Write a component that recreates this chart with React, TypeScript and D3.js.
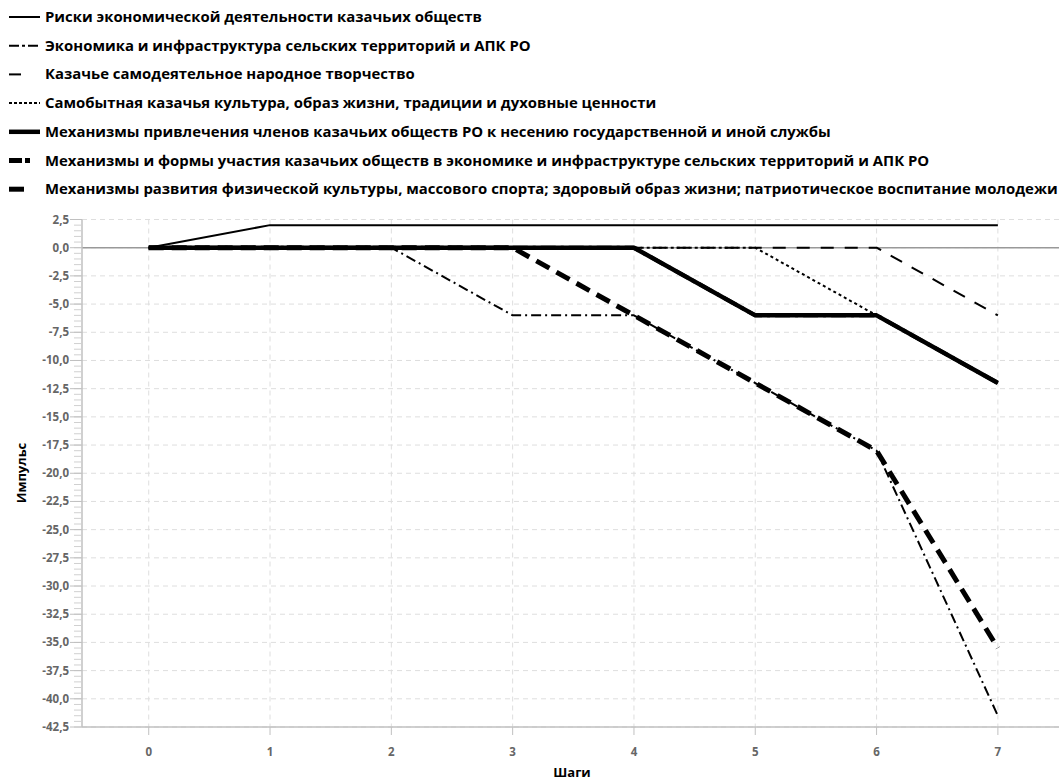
import React from "react";
import * as d3 from "d3";

const steps = [0, 1, 2, 3, 4, 5, 6, 7];
const seriesNames = [
  "Риски экономической деятельности казачьих обществ",
  "Экономика и инфраструктура сельских территорий и АПК РО",
  "Казачье самодеятельное народное творчество",
  "Самобытная казачья культура, образ жизни, традиции и духовные ценности",
  "Механизмы привлечения членов казачьих обществ РО к несению государственной и иной службы",
  "Механизмы и формы участия казачьих обществ в экономике и инфраструктуре сельских территорий и АПК РО",
  "Механизмы развития физической культуры, массового спорта; здоровый образ жизни; патриотическое воспитание молодежи",
];
const s1 = [0, 2, 2, 2, 2, 2, 2, 2];
const s2 = [0, 0, 0, -6, -6, -12, -18, -41.5];
const s3 = [0, 0, 0, 0, 0, 0, 0, -6];
const s4 = [0, 0, 0, 0, 0, 0, -6, -12];
const s5 = [0, 0, 0, 0, 0, -6, -6, -12];
const s6 = [0, 0, 0, 0, -6, -12, -18, -35.5];
const s7 = [0, 0, 0, 0, 0, -6, -6, -12];
const seriesValues = [s1, s2, s3, s4, s5, s6, s7];
const yTicks = d3.range(2.5, -42.6, -2.5);

const styles = [
  { w: 2, dash: "" },
  { w: 2, dash: "10,4,2,4" },
  { w: 2, dash: "13,11" },
  { w: 2, dash: "3,3" },
  { w: 4.5, dash: "" },
  { w: 5, dash: "15,8" },
  { w: 4, dash: "15,5,3,5" },
];
const legendStyles = [
  { w: 2, dash: "" },
  { w: 2, dash: "10,3,3,3" },
  { w: 2, dash: "12,20" },
  { w: 2, dash: "3,2" },
  { w: 4.5, dash: "" },
  { w: 5, dash: "13,3,5,20" },
  { w: 5, dash: "15,20" },
];
const drawOrder = [6, 0, 1, 2, 3, 4, 5];

export default function App() {
  const W = 1059, H = 782;
  const x = d3.scaleLinear().domain([-0.55, 7.55]).range([82, 1064.6]);
  const y = d3.scaleLinear().domain([-42.5, 2.5]).range([727, 219.5]);
  const line = d3.line<number>().x((_, i) => x(steps[i])).y((d) => y(d));
  const minor = d3.range(2.5, -42.51, -0.5);
  const font = "'Open Sans', 'Noto Sans', sans-serif";
  return (
    <svg width={W} height={H} style={{ position: "absolute", left: 0, top: 0, background: "#fff" }} fontFamily={font}>
      <defs>
        <clipPath id="plot">
          <rect x={82} y={200} width={W - 82} height={540} />
        </clipPath>
      </defs>
      {/* legend */}
      {seriesNames.map((n, i) => {
        const ly = 17 + i * 28.7;
        return (
          <g key={n}>
            <line x1={9} x2={40} y1={ly} y2={ly} stroke="#000" strokeWidth={legendStyles[i].w} strokeDasharray={legendStyles[i].dash} />
            <text x={45} y={ly + 5} fontSize={14.9} fontWeight={700} fill="#000">{n}</text>
          </g>
        );
      })}
      {/* grid */}
      {yTicks.map((t) => (
        <line key={"gy" + t} x1={82} x2={W} y1={y(t)} y2={y(t)} stroke="#dedede" strokeDasharray="5,4" />
      ))}
      {steps.map((s) => (
        <line key={"gx" + s} x1={x(s)} x2={x(s)} y1={219.5} y2={727} stroke="#dedede" strokeDasharray="5,4" />
      ))}
      {/* zero line */}
      <line x1={82} x2={W} y1={y(0)} y2={y(0)} stroke="#999" strokeWidth={1.5} />
      {/* y axis */}
      <line x1={82} x2={82} y1={219.5} y2={727} stroke="#c0c0c0" strokeWidth={1.5} />
      {minor.map((t) => (
        <line key={"mt" + t} x1={74} x2={82} y1={y(t)} y2={y(t)} stroke="#d0d0d0" strokeWidth={1} />
      ))}
      {yTicks.map((t) => (
        <g key={"yt" + t}>
          <line x1={70} x2={82} y1={y(t)} y2={y(t)} stroke="#c0c0c0" strokeWidth={1} />
          <text x={69} y={y(t) + 4} textAnchor="end" fontSize={11.5} fontWeight={700} fill="#666">
            {d3.format(".1f")(t).replace(".", ",").replace("−", "-")}
          </text>
        </g>
      ))}
      {/* x axis */}
      <line x1={82} x2={W} y1={727} y2={727} stroke="#c0c0c0" strokeWidth={1.5} />
      {steps.map((s) => (
        <g key={"xt" + s}>
          <line x1={x(s)} x2={x(s)} y1={727} y2={735} stroke="#c0c0c0" />
          <text x={x(s)} y={756} textAnchor="middle" fontSize={11.5} fontWeight={700} fill="#666">{s}</text>
        </g>
      ))}
      {/* series */}
      <g clipPath="url(#plot)">
        {drawOrder.map((i) => (
          <path key={"s" + i} d={line(seriesValues[i]) || ""} fill="none" stroke="#000" strokeWidth={styles[i].w} strokeDasharray={styles[i].dash} strokeLinejoin="round" />
        ))}
      </g>
      {/* axis titles */}
      <text x={572} y={777} textAnchor="middle" fontSize={13} fontWeight={700} fill="#000">Шаги</text>
      <text transform={`translate(26,473) rotate(-90)`} textAnchor="middle" fontSize={13} fontWeight={700} fill="#000">Импульс</text>
    </svg>
  );
}
